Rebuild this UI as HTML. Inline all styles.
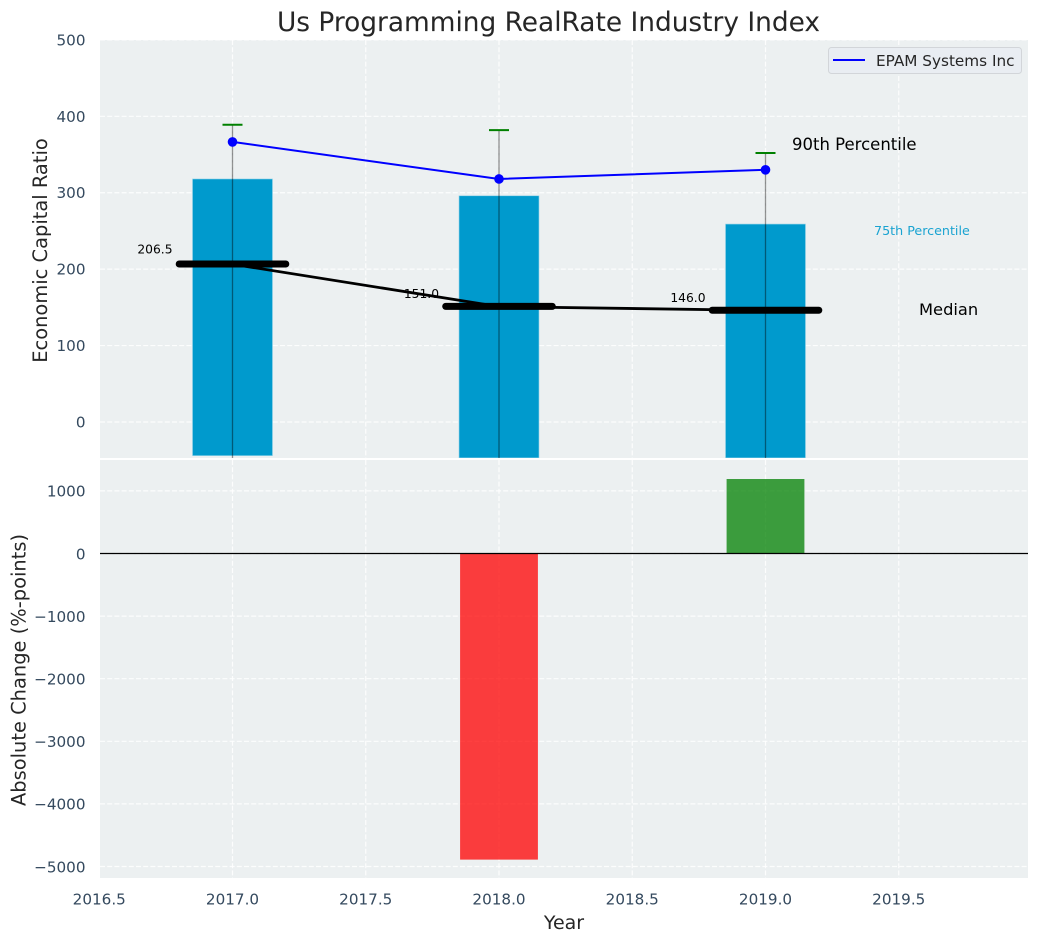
<!DOCTYPE html>
<html>
<head>
<meta charset="utf-8">
<title>Us Programming RealRate Industry Index</title>
<style>
html,body{margin:0;padding:0;background:#fff;width:1039px;height:942px;overflow:hidden}
svg{display:block;font-family:"DejaVu Sans","Liberation Sans",sans-serif}
</style>
</head>
<body>
<svg id="chart" width="1039" height="942" viewBox="0 0 1039 942" xmlns="http://www.w3.org/2000/svg">
<defs>
<clipPath id="clip-top"><rect x="100" y="40" width="928" height="418"/></clipPath>
<clipPath id="clip-bottom"><rect x="100" y="460" width="928" height="418"/></clipPath>
</defs>
<rect x="100" y="40" width="928" height="418" fill="#ecf0f1"/>
<rect x="100" y="460" width="928" height="418" fill="#ecf0f1"/>
<g id="grid"></g>
<g id="top-panel" clip-path="url(#clip-top)"></g>
<g id="bottom-panel" clip-path="url(#clip-bottom)"></g>
<g id="ticks"></g>
<text x="548.5" y="31" text-anchor="middle" font-size="26.4" fill="#262626">Us Programming RealRate Industry Index</text>
<text transform="translate(47,250.5) rotate(-90)" text-anchor="middle" font-size="19.45" fill="#262626">Economic Capital Ratio</text>
<text transform="translate(25.5,670) rotate(-90)" text-anchor="middle" font-size="19.45" fill="#262626">Absolute Change (%-points)</text>
<text x="564" y="929" text-anchor="middle" font-size="19" fill="#262626">Year</text>
<g>
<rect x="828.5" y="47.5" width="193" height="26" rx="3" fill="#e9edf2" stroke="#d2d5d9" stroke-width="1"/>
<line x1="833" y1="60" x2="865" y2="60" stroke="#0000ff" stroke-width="2"/>
<text x="876" y="66" font-size="15.25" fill="#262626">EPAM Systems Inc</text>
</g>
<script>
// Chart data
var years = [2017, 2018, 2019];
var p90 = [389, 382, 352];
var p75 = [318, 296, 259];
var p25 = [-44, -47, -47];
var median = [206.5, 151.0, 146.0];
var company = [366.5, 318, 330];
var absChange = [0, -4890, 1190];
var xTicks = [2016.5, 2017, 2017.5, 2018, 2018.5, 2019, 2019.5];
var xTickLabels = ['2016.5', '2017.0', '2017.5', '2018.0', '2018.5', '2019.0', '2019.5'];
var topYTicks = [0, 100, 200, 300, 400, 500];
var bottomYTicks = [-5000, -4000, -3000, -2000, -1000, 0, 1000];

// Axis functions
function xS(v) { return 232.5 + (v - 2017) * 266.5; }
function yTop(v) { return 422 - v * 0.7642; }
function yBot(v) { return 553.5 - v * 0.0626; }

var NS = 'http://www.w3.org/2000/svg';
function mk(parent, tag, attrs, text) {
  var el = document.createElementNS(NS, tag);
  for (var k in attrs) el.setAttribute(k, attrs[k]);
  if (text !== undefined) el.textContent = text;
  parent.appendChild(el);
  return el;
}
var gGrid = document.getElementById('grid');
var gTop = document.getElementById('top-panel');
var gBot = document.getElementById('bottom-panel');
var gTicks = document.getElementById('ticks');
var gridStyle = { stroke: '#ffffff', 'stroke-width': 1.2, 'stroke-dasharray': '5 2.2', 'stroke-opacity': 0.85 };
function gridLine(x1, y1, x2, y2) {
  var el = mk(gGrid, 'line', Object.assign({ x1: x1, y1: y1, x2: x2, y2: y2 }, gridStyle));
  
  
}

xTicks.forEach(function (t, i) {
  if (xS(t) > 100.5) {
    gridLine(xS(t), 40, xS(t), 458);
    gridLine(xS(t), 460, xS(t), 878);
  }
  var el = mk(gTicks, 'text', { x: xS(t), y: 904.5, 'text-anchor': 'middle', 'font-size': 15.2, fill: '#34495e' }, xTickLabels[i]);
  
  
});
topYTicks.forEach(function (t) {
  gridLine(100, yTop(t), 1028, yTop(t));
  var el = mk(gTicks, 'text', { x: 85.5, y: yTop(t) + 5.5, 'text-anchor': 'end', 'font-size': 15.2, fill: '#34495e' }, String(t));
  
  
});
bottomYTicks.forEach(function (t) {
  gridLine(100, yBot(t), 1028, yBot(t));
  var el = mk(gTicks, 'text', { x: 85.5, y: yBot(t) + 5.8, 'text-anchor': 'end', 'font-size': 15.2, fill: '#34495e' }, String(t).replace('-', '\u2212'));
  
  
});

// Top panel: interquartile bars
years.forEach(function (yr, i) {
  var el = mk(gTop, 'rect', {
    x: xS(yr - 0.15), y: yTop(p75[i]), width: xS(yr + 0.15) - xS(yr - 0.15),
    height: yTop(p25[i]) - yTop(p75[i]), fill: '#009acd', stroke: '#8fd0e6', 'stroke-width': 0.6
  });
  
  
});

// Value labels sit beneath the median line
median.forEach(function (m, i) {
  var el = mk(gTop, 'text', { x: xS(years[i] - 0.225), y: yTop(m) - (i === 0 ? 10.5 : 8.5), 'text-anchor': 'end', 'font-size': 12.3, fill: '#000' }, m.toFixed(1));
  
  
});

// Whiskers and caps
years.forEach(function (yr, i) {
  var w = mk(gTop, 'line', { x1: xS(yr), y1: yTop(p90[i]), x2: xS(yr), y2: 458, stroke: '#000', 'stroke-opacity': 0.42, 'stroke-width': 1.3 });
  
  
  var c = mk(gTop, 'line', { x1: xS(yr) - 10, y1: yTop(p90[i]), x2: xS(yr) + 10, y2: yTop(p90[i]), stroke: '#008000', 'stroke-width': 2 });
  
  
});

// Median connecting line and thick markers
var medianPts = years.map(function (yr, i) { return xS(yr) + ',' + yTop(median[i]); }).join(' ');
var medianLine = mk(gTop, 'polyline', { points: medianPts, fill: 'none', stroke: '#000', 'stroke-width': 2.8 });


years.forEach(function (yr, i) {
  var el = mk(gTop, 'line', { x1: xS(yr - 0.2), y1: yTop(median[i]) - 0.2, x2: xS(yr + 0.2), y2: yTop(median[i]) - 0.2, stroke: '#000', 'stroke-width': 7, 'stroke-linecap': 'round' });
  
  
});

// Company series
var companyPts = years.map(function (yr, i) { return xS(yr) + ',' + yTop(company[i]); }).join(' ');
var companyLine = mk(gTop, 'polyline', { points: companyPts, fill: 'none', stroke: '#0000ff', 'stroke-width': 2 });


years.forEach(function (yr, i) {
  var el = mk(gTop, 'circle', { cx: xS(yr), cy: yTop(company[i]), r: 4.8, fill: '#0000ff' });
  
  
});

// Percentile annotations
var a90 = mk(gTop, 'text', { x: 792, y: 150, 'font-size': 16.5, fill: '#000' }, '90th Percentile');


var a75 = mk(gTop, 'text', { x: 874, y: 235, 'font-size': 12.7, fill: '#1aa3d1' }, '75th Percentile');


var aMed = mk(gTop, 'text', { x: 919, y: 315, 'font-size': 16.3, fill: '#000' }, 'Median');



// Bottom panel: change bars
years.forEach(function (yr, i) {
  var v = absChange[i];
  if (v === 0) return;
  var top = Math.min(yBot(v), yBot(0));
  var el = mk(gBot, 'rect', {
    x: xS(yr - 0.146), y: top, width: xS(yr + 0.146) - xS(yr - 0.146),
    height: Math.abs(yBot(v) - yBot(0)), fill: v < 0 ? '#ff0000' : '#008000', 'fill-opacity': 0.75
  });
  
  
});
var zero = mk(gBot, 'line', { x1: 100, y1: yBot(0), x2: 1028, y2: yBot(0), stroke: '#000', 'stroke-width': 1.3 });


</script>
</svg>
</body>
</html>
